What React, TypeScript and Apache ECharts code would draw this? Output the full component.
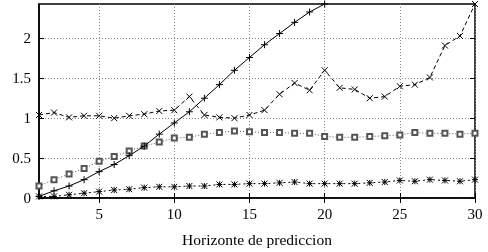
import React, { useEffect, useRef } from "react";
import * as echarts from "echarts";

const horizons = [1,2,3,4,5,6,7,8,9,10,11,12,13,14,15,16,17,18,19,20,21,22,23,24,25,26,27,28,29,30];
const seriesPlus = [0.02,0.09,0.15,0.23,0.33,0.42,0.53,0.65,0.80,0.94,1.08,1.25,1.42,1.60,1.76,1.92,2.06,2.20,2.33,2.43];
const seriesCross = [1.04,1.07,1.01,1.03,1.03,1.00,1.03,1.05,1.09,1.10,1.27,1.04,1.01,1.00,1.04,1.10,1.30,1.44,1.35,1.60,1.38,1.36,1.25,1.27,1.40,1.42,1.51,1.91,2.03,2.43];
const seriesSquare = [0.15,0.23,0.30,0.37,0.46,0.52,0.59,0.65,0.70,0.75,0.76,0.80,0.82,0.84,0.83,0.82,0.82,0.81,0.81,0.77,0.76,0.76,0.77,0.78,0.79,0.82,0.81,0.81,0.80,0.81];
const seriesStar = [0.02,0.02,0.04,0.06,0.08,0.10,0.11,0.13,0.14,0.14,0.15,0.15,0.17,0.17,0.18,0.18,0.19,0.20,0.18,0.18,0.18,0.18,0.19,0.20,0.22,0.21,0.23,0.22,0.21,0.23];
const xTicks = [5,10,15,20,25,30];
const yTicks = [0,0.5,1,1.5,2];
const xTitle = "Horizonte de prediccion";

const font = "'Liberation Serif', 'Times New Roman', serif";

function pairs(vals: number[]) {
  return vals.map((v, i) => [horizons[i], v]);
}

export default function App() {
  const ref = useRef<HTMLDivElement>(null);
  useEffect(() => {
    const chart = echarts.init(ref.current!, null, { renderer: "svg" });
    const plus = "path://M5 0V10M0 5H10";
    const cross = "path://M0 0L10 10M10 0L0 10";
    const star = "path://M0 0L10 10M10 0L0 10M5 0V10M0 5H10";
    const mk = (data: number[], symbol: string, size: number, lineType: any, color: string, z: number) => ({
      type: "line",
      data: pairs(data),
      symbol,
      symbolSize: size,
      showAllSymbol: true,
      clip: true,
      z,
      lineStyle: { color, width: 1, type: lineType },
      itemStyle: { color: symbol === "emptyRect" ? color : "none", borderColor: color, borderWidth: 1 },
    });
    chart.setOption({
      animation: false,
      grid: { left: 39, right: 13, top: 4, bottom: 52, show: true, borderColor: "#000", borderWidth: 1.5, backgroundColor: "transparent" },
      xAxis: [
        {
          type: "value", min: 1, max: 30,
          name: xTitle, nameLocation: "middle", nameGap: 33,
          nameTextStyle: { fontFamily: font, fontSize: 15.5, color: "#000" },
          axisLine: { show: true, lineStyle: { color: "#000", width: 1.5 } },
          axisTick: { show: true, inside: true, length: 5, customValues: xTicks, lineStyle: { color: "#000" } },
          axisLabel: { customValues: xTicks, fontFamily: font, fontSize: 15, color: "#000", margin: 8 },
          splitLine: { show: true, lineStyle: { color: "#888", type: [1, 2], width: 1 } },
        },
        {
          type: "value", min: 1, max: 30, position: "top",
          axisLine: { show: false },
          axisTick: { show: true, inside: true, length: 5, customValues: xTicks, lineStyle: { color: "#000" } },
          axisLabel: { show: false },
          splitLine: { show: false },
        },
      ],
      yAxis: [
        {
          type: "value", min: 0, max: 2.43,
          axisLine: { show: true, lineStyle: { color: "#000", width: 1.5 } },
          axisTick: { show: true, inside: true, length: 5, customValues: yTicks, lineStyle: { color: "#000" } },
          axisLabel: { customValues: yTicks, fontFamily: font, fontSize: 15, color: "#000", margin: 8 },
          splitLine: { show: true, lineStyle: { color: "#888", type: [1, 2], width: 1 } },
        },
        {
          type: "value", min: 0, max: 2.43, position: "right",
          axisLine: { show: false },
          axisTick: { show: true, inside: true, length: 5, customValues: yTicks, lineStyle: { color: "#000" } },
          axisLabel: { show: false },
          splitLine: { show: false },
        },
      ],
      series: [
        mk(seriesPlus, plus, 7, "solid", "#000", 4),
        mk(seriesCross, cross, 6, [4, 3], "#000", 3),
        mk(seriesSquare, "emptyRect", 5, [1, 2], "#555", 2),
        mk(seriesStar, star, 6, [2, 3], "#000", 1),
      ],
    });
    return () => chart.dispose();
  }, []);
  return <div ref={ref} style={{ position: "fixed", left: 0, top: 0, width: 488, height: 252 }} />;
}
